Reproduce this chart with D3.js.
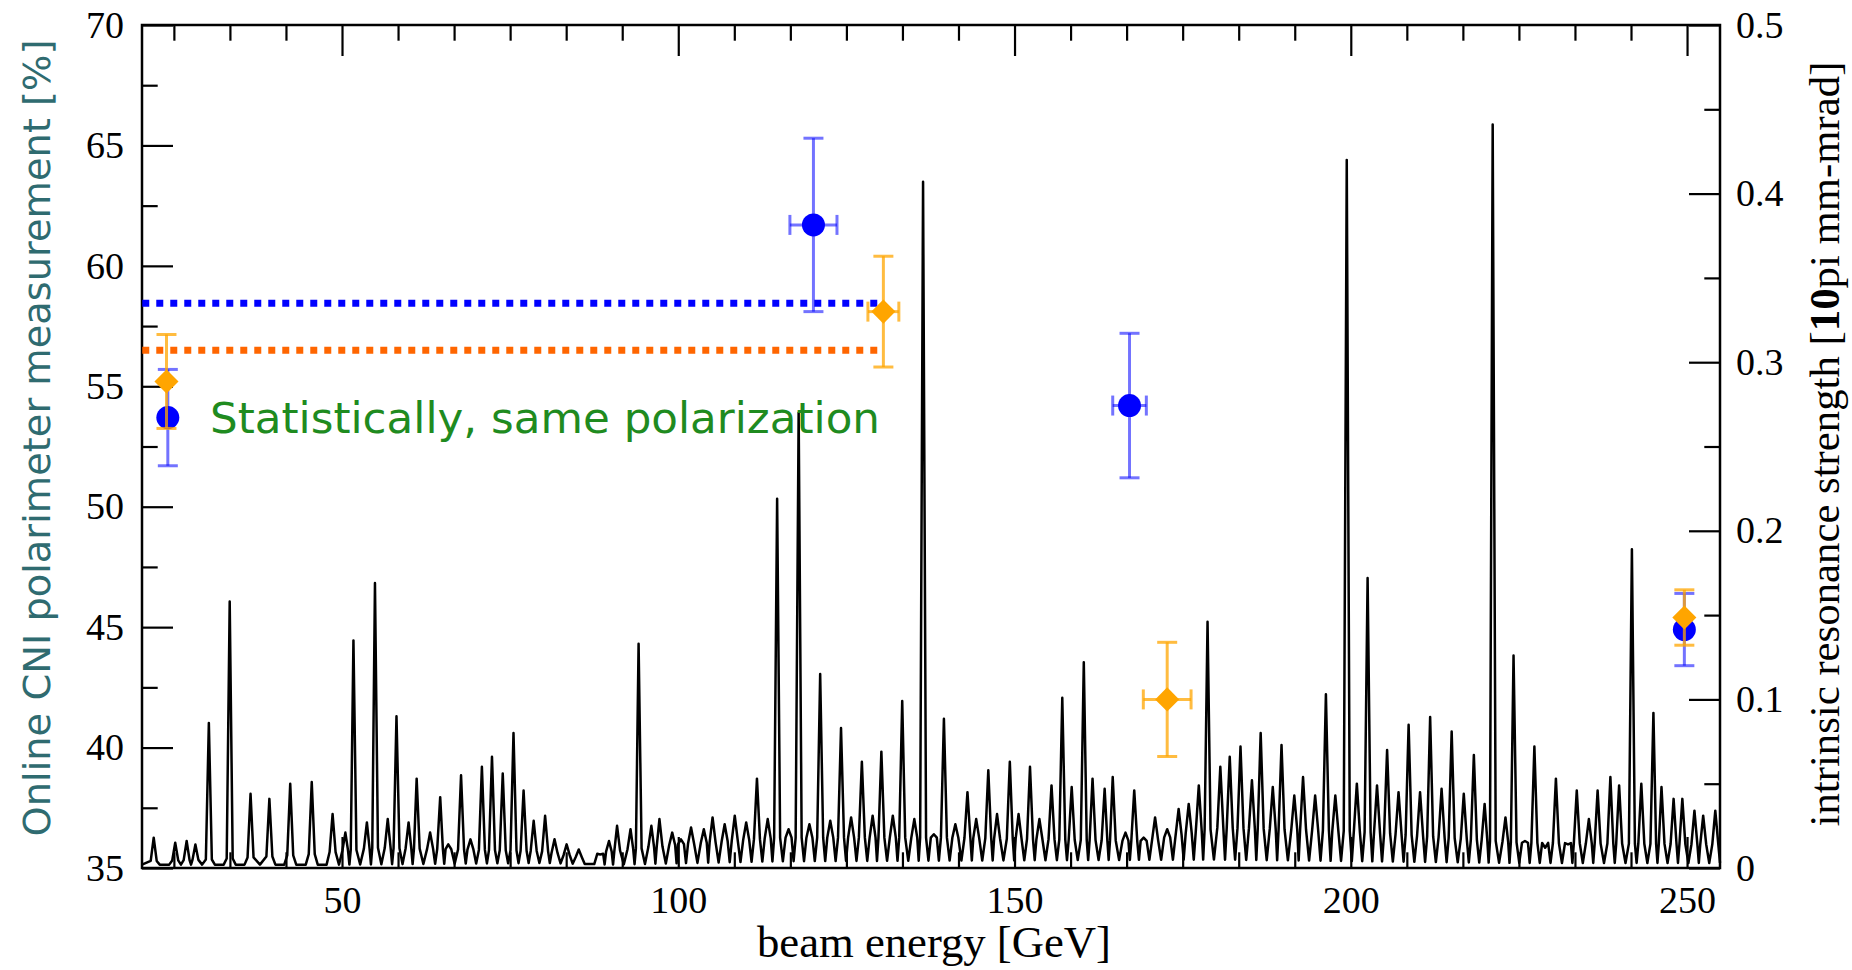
<!DOCTYPE html>
<html><head><meta charset="utf-8">
<script src="https://cdn.jsdelivr.net/npm/d3@7"></script>
<style>body{margin:0;background:#fff}svg{display:block}</style>
</head><body>
<svg id="chart" width="1852" height="970"></svg>
<script>
// ---------- data ----------
const xTicks = [50, 100, 150, 200, 250];
const yLeftTicks = [35, 40, 45, 50, 55, 60, 65, 70];
const yRightTicks = [0, 0.1, 0.2, 0.3, 0.4, 0.5];
const yRightTickLabels = ["0", "0.1", "0.2", "0.3", "0.4", "0.5"];

// intrinsic resonance strength peaks (energy GeV, strength)
const resEnergy = [22.0,25.2,26.9,28.2,30.2,33.3,36.4,39.2,42.3,45.5,48.6,50.5,51.7,53.7,54.9,56.8,58.1,59.9,61.1,63.1,64.6,65.8,67.7,69.1,70.8,72.3,73.9,75.5,77.0,78.5,
  80.2,81.6,83.4,85.2,88.4,89.7,90.9,92.9,94.1,96.0,97.2,99.1,100.4,101.9,103.8,105.1,106.9,108.4,110.1,111.7,113.3,114.7,116.4,117.9,119.5,121.1,122.6,124.2,125.7,127.3,128.9,130.2,131.9,133.3,135.1,136.4,138.0,
  139.5,141.2,143.0,144.3,146.1,147.4,149.3,150.6,152.3,153.7,155.5,157.1,158.5,160.3,161.6,163.4,164.6,166.5,167.8,169.2,170.9,172.7,174.4,175.9,177.4,178.7,180.6,182.0,183.6,185.3,186.6,188.4,189.7,191.6,192.9,194.7,196.3,
  197.7,199.4,200.9,202.5,203.9,205.4,207.1,208.6,210.3,211.8,213.5,215.0,216.8,218.3,219.9,221.1,223.0,224.2,225.9,227.3,228.9,230.5,232.3,233.6,235.4,236.7,238.6,239.9,241.8,243.2,245.0,246.2,248.0,249.3,251.1,252.4,254.2];
const resStrength = [0.018,0.015,0.016,0.014,0.086,0.158,0.044,0.041,0.050,0.051,0.032,0.021,0.135,0.027,0.169,0.029,0.090,0.027,0.053,0.021,0.042,0.014,0.055,0.017,0.060,0.066,0.056,0.080,0.046,0.028,
  0.031,0.017,0.014,0.011,0.008,0.016,0.025,0.023,0.133,0.025,0.029,0.021,0.017,0.024,0.023,0.030,0.026,0.031,0.027,0.053,0.029,0.219,0.023,0.270,0.026,0.115,0.028,0.083,0.030,0.063,0.031,0.069,0.031,0.099,0.029,0.407,0.020,
  0.0885,0.026,0.045,0.029,0.058,0.032,0.063,0.032,0.060,0.029,0.049,0.101,0.048,0.122,0.053,0.047,0.054,0.021,0.046,0.018,0.030,0.023,0.035,0.038,0.049,0.146,0.060,0.066,0.072,0.052,0.080,0.048,0.073,0.043,0.054,0.043,0.103,
  0.043,0.420,0.050,0.172,0.049,0.070,0.045,0.085,0.045,0.0895,0.047,0.081,0.044,0.067,0.038,0.441,0.030,0.126,0.016,0.072,0.012,0.053,0.014,0.046,0.029,0.046,0.054,0.049,0.189,0.050,0.092,0.048,0.041,0.041,0.034,0.031,0.034];
// shoulder level of the trace at the foot of each peak
const floorEnergy = [20.3, 30, 45, 55, 80, 86, 90, 100, 115, 140, 170, 180, 200, 225, 255];
const floorStrength = [0.004, 0.005, 0.008, 0.012, 0.010, 0.006, 0.010, 0.014, 0.018, 0.018, 0.016, 0.024, 0.022, 0.015, 0.014];
// lowest level reached by the trace between peaks
const valleyEnergy = [20.3, 50, 80, 90, 115, 180, 225, 255];
const valleyStrength = [0.002, 0.002, 0.003, 0.002, 0.004, 0.005, 0.003, 0.003];

// polarimeter measurements
const blueEnergy = [24.1, 120.1, 167.1, 249.6];
const bluePol = [53.7, 61.7, 54.2, 44.9];
const bluePolErr = [2.0, 3.6, 3.0, 1.5];
const blueEnergyErr = [0, 3.5, 2.5, 0];
const orangeEnergy = [23.9, 130.5, 172.7, 249.6];
const orangePol = [55.2, 58.1, 42.0, 45.4];
const orangePolErr = [1.95, 2.3, 2.37, 1.15];
const orangeEnergyErr = [0, 2.3, 3.55, 0];
// average lines
const avgPol = [58.45, 56.5];
const avgEnergyRange = [20.3, 130.3];

// ---------- chart ----------
const svg = d3.select("#chart");
const L = 142, R = 1720, T = 25, B = 868;
const x = d3.scaleLinear().domain([20.26, 254.9]).range([L, R]);
const yL = d3.scaleLinear().domain([35, 70]).range([B, T]);
const yR = d3.scaleLinear().domain([0, 0.5]).range([B, T]);

// resonance trace
const floorAt = d3.scaleLinear().domain(floorEnergy).range(floorStrength).clamp(true);
const valleyAt = d3.scaleLinear().domain(valleyEnergy).range(valleyStrength).clamp(true);
const pts = [[x.range()[0], yR(valleyAt(x.domain()[0]))]];
for (let i = 0; i < resEnergy.length; i++) {
  const e = resEnergy[i], xc = x(e);
  const gl = i > 0 ? (xc - x(resEnergy[i-1])) : 12;
  const gr = i < resEnergy.length - 1 ? (x(resEnergy[i+1]) - xc) : 12;
  const hwL = Math.min(3, gl / 3), hwR = Math.min(3, gr / 3);
  const f = yR(floorAt(e));
  pts.push([xc - hwL, f], [xc, yR(resStrength[i])], [xc + hwR, f]);
  if (i < resEnergy.length - 1) {
    const em = (e + resEnergy[i+1]) / 2;
    const v = yR(valleyAt(em));
    if (gr > 20) pts.push([xc + hwR + 3, v], [x(resEnergy[i+1]) - 6, v]);
    else pts.push([x(em), v]);
  }
}
pts.push([x.range()[1], yR(valleyAt(x.domain()[1]))]);
svg.append("path").attr("d", d3.line()(pts))
  .attr("fill", "none").attr("stroke", "#000").attr("stroke-width", 2.5)
  .attr("stroke-linejoin", "round");

// axes
const serif = "'Liberation Serif','Times New Roman',serif";
function styleAxis(g, labelSize) {
  g.select(".domain").remove();
  g.selectAll(".tick line").attr("stroke", "#000").attr("stroke-width", 2.2);
  g.selectAll("text").attr("font-family", serif).attr("font-size", labelSize).attr("fill", "#000");
}
const xMinor = d3.range(25, 255, 50 / 6).filter(v => Math.abs((v % 50)) > 0.1 && Math.abs((v % 50) - 50) > 0.1);
const yLMinor = d3.range(37.5, 70, 5);
const yRMinor = d3.range(0.05, 0.5, 0.1);

svg.append("g").attr("transform", `translate(0,${B})`)
  .call(d3.axisBottom(x).tickValues(xTicks).tickSizeInner(-31).tickSizeOuter(0).tickPadding(18))
  .call(g => styleAxis(g, 38));
svg.append("g").attr("transform", `translate(0,${B})`)
  .call(d3.axisBottom(x).tickValues(xMinor).tickSizeInner(-15.7).tickSizeOuter(0).tickFormat(""))
  .call(g => styleAxis(g, 38));
svg.append("g").attr("transform", `translate(0,${T})`)
  .call(d3.axisTop(x).tickValues(xTicks).tickSizeInner(-31).tickSizeOuter(0).tickFormat(""))
  .call(g => styleAxis(g, 38));
svg.append("g").attr("transform", `translate(0,${T})`)
  .call(d3.axisTop(x).tickValues(xMinor).tickSizeInner(-15.7).tickSizeOuter(0).tickFormat(""))
  .call(g => styleAxis(g, 38));
svg.append("g").attr("transform", `translate(${L},0)`)
  .call(d3.axisLeft(yL).tickValues(yLeftTicks).tickSizeInner(-31).tickSizeOuter(0).tickPadding(18))
  .call(g => styleAxis(g, 38));
svg.append("g").attr("transform", `translate(${L},0)`)
  .call(d3.axisLeft(yL).tickValues(yLMinor).tickSizeInner(-15.7).tickSizeOuter(0).tickFormat(""))
  .call(g => styleAxis(g, 38));
svg.append("g").attr("transform", `translate(${R},0)`)
  .call(d3.axisRight(yR).tickValues(yRightTicks).tickSizeInner(-31).tickSizeOuter(0).tickPadding(16)
    .tickFormat((d, i) => yRightTickLabels[i]))
  .call(g => styleAxis(g, 38));
svg.append("g").attr("transform", `translate(${R},0)`)
  .call(d3.axisRight(yR).tickValues(yRMinor).tickSizeInner(-15.7).tickSizeOuter(0).tickFormat(""))
  .call(g => styleAxis(g, 38));

// frame
svg.append("rect").attr("x", L).attr("y", T).attr("width", R - L).attr("height", B - T)
  .attr("fill", "none").attr("stroke", "#000").attr("stroke-width", 2.5);

// average dotted lines
const avgColors = ["#0000ff", "#ff6600"];
avgPol.forEach((p, i) => {
  svg.append("line").attr("x1", x(avgEnergyRange[0])).attr("x2", x(avgEnergyRange[1]))
    .attr("y1", yL(p)).attr("y2", yL(p))
    .attr("stroke", avgColors[i]).attr("stroke-width", 7).attr("stroke-dasharray", "7,7");
});

// measurement series
function drawSeries(E, P, dP, dE, barColor, barOpacity, marker) {
  const g = svg.append("g");
  const cap = 10;
  E.forEach((e, i) => {
    const cx = x(e), cy = yL(P[i]);
    const bars = g.append("g").attr("stroke", barColor).attr("stroke-opacity", barOpacity).attr("stroke-width", 3);
    bars.append("line").attr("x1", cx).attr("x2", cx).attr("y1", yL(P[i] + dP[i])).attr("y2", yL(P[i] - dP[i]));
    bars.append("line").attr("x1", cx - cap).attr("x2", cx + cap).attr("y1", yL(P[i] + dP[i])).attr("y2", yL(P[i] + dP[i]));
    bars.append("line").attr("x1", cx - cap).attr("x2", cx + cap).attr("y1", yL(P[i] - dP[i])).attr("y2", yL(P[i] - dP[i]));
    if (dE[i] > 0) {
      bars.append("line").attr("x1", x(e - dE[i])).attr("x2", x(e + dE[i])).attr("y1", cy).attr("y2", cy);
      bars.append("line").attr("x1", x(e - dE[i])).attr("x2", x(e - dE[i])).attr("y1", cy - cap).attr("y2", cy + cap);
      bars.append("line").attr("x1", x(e + dE[i])).attr("x2", x(e + dE[i])).attr("y1", cy - cap).attr("y2", cy + cap);
    }
    marker(g, cx, cy);
  });
}
drawSeries(blueEnergy, bluePol, bluePolErr, blueEnergyErr, "#0000ff", 0.55,
  (g, cx, cy) => g.append("circle").attr("cx", cx).attr("cy", cy).attr("r", 11.5).attr("fill", "#0000ff"));
drawSeries(orangeEnergy, orangePol, orangePolErr, orangeEnergyErr, "#ffa500", 0.75,
  (g, cx, cy) => g.append("path").attr("d", d3.symbol(d3.symbolSquare, 290)())
    .attr("transform", `translate(${cx},${cy}) rotate(45)`).attr("fill", "#ffa500"));

// annotation
svg.append("text").attr("x", 210).attr("y", 433)
  .attr("font-family", "'DejaVu Sans',sans-serif").attr("font-size", 42).attr("fill", "#1f8b1f")
  .attr("textLength", 670).attr("lengthAdjust", "spacingAndGlyphs")
  .text("Statistically, same polarization");

// axis titles
svg.append("text").attr("x", 934).attr("y", 957).attr("text-anchor", "middle")
  .attr("font-family", serif).attr("font-size", 44).attr("fill", "#000")
  .attr("textLength", 354).attr("lengthAdjust", "spacingAndGlyphs")
  .text("beam energy [GeV]");
svg.append("text").attr("transform", "translate(50,438) rotate(-90)").attr("text-anchor", "middle")
  .attr("font-family", "'DejaVu Sans',sans-serif").attr("font-size", 38).attr("fill", "#2f6b70")
  .attr("textLength", 797).attr("lengthAdjust", "spacingAndGlyphs")
  .text("Online CNI polarimeter measurement [%]");
const rt = svg.append("text").attr("transform", "translate(1839,444) rotate(-90)").attr("text-anchor", "middle")
  .attr("font-family", serif).attr("font-size", 43).attr("fill", "#000")
  .attr("textLength", 765).attr("lengthAdjust", "spacingAndGlyphs");
rt.append("tspan").text("intrinsic resonance strength [");
rt.append("tspan").attr("font-weight", "bold").text("10");
rt.append("tspan").text("pi mm-mrad]");
</script>
</body></html>
